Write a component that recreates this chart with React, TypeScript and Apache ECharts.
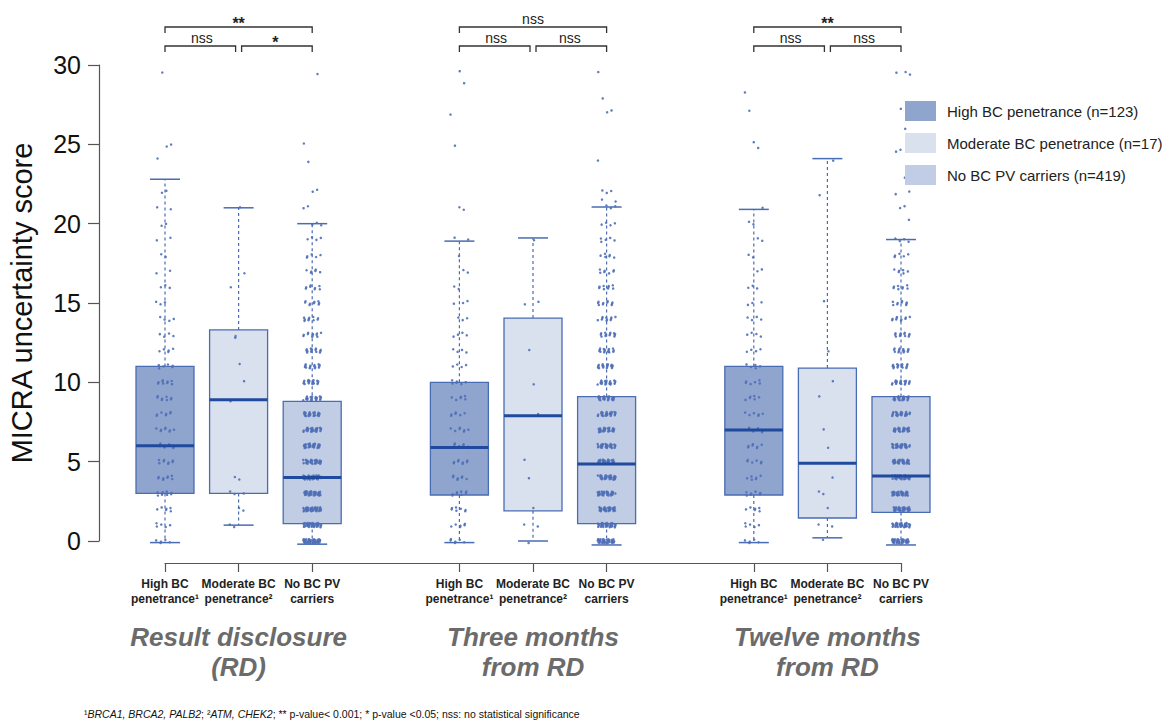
import { useEffect, useRef } from 'react';
import * as echarts from 'echarts';

const FONT = '"Liberation Sans", Arial, Helvetica, sans-serif';

// ---------- data ----------
const categories = [
  'High BC\npenetrance¹', 'Moderate BC\npenetrance²', 'No BC PV\ncarriers', '',
  'High BC\npenetrance¹', 'Moderate BC\npenetrance²', 'No BC PV\ncarriers', '',
  'High BC\npenetrance¹', 'Moderate BC\npenetrance²', 'No BC PV\ncarriers',
];
const boxCategoryIndex = [0, 1, 2, 4, 5, 6, 8, 9, 10];
const boxKind = [0, 1, 2, 0, 1, 2, 0, 1, 2];
const seriesNames = ['High BC penetrance (n=123)', 'Moderate BC penetrance (n=17)', 'No BC PV carriers (n=419)'];
const groupTitles = ['Result disclosure\n(RD)', 'Three months\nfrom RD', 'Twelve months\nfrom RD'];
// [outer (1 vs 3), left (1 vs 2), right (2 vs 3)]
const bracketLabels = [['**', 'nss', '*'], ['nss', 'nss', 'nss'], ['**', 'nss', 'nss']];

const lowerWhisker = [-0.1, 1.0, -0.2, -0.1, 0.0, -0.25, -0.1, 0.2, -0.25];
const q1 = [3.0, 3.0, 1.1, 2.9, 1.9, 1.1, 2.9, 1.45, 1.8];
const medians = [6.0, 8.9, 4.0, 5.9, 7.9, 4.85, 7.0, 4.9, 4.1];
const q3 = [11.0, 13.3, 8.8, 10.0, 14.05, 9.1, 11.0, 10.9, 9.1];
const upperWhisker = [22.8, 21.0, 20.0, 18.9, 19.1, 21.05, 20.9, 24.1, 19.0];

// individual scores as [score, count]
const pointsRdHigh = [[0,5],[1,5],[2,6],[3,9],[4,8],[5,8],[6,9],[7,8],[8,7],[9,8],[10,9],[11,6],[12,5],[13,4],[14,4],[15,3],[16,3],[17,2],[18,2],[19,2],[20,2],[21,2],[22,2],[24,1],[25,2],[29.5,1]];
const pointsRdModerate = [[1,2],[2,2],[3,3],[4,2],[8.9,1],[10,1],[11.2,1],[12.7,1],[16,1],[17,1],[21,1],[13,1]];
const pointsRdNone = [[0,40],[1,38],[2,36],[3,34],[4,33],[5,30],[6,28],[7,26],[8,24],[9,20],[10,18],[11,15],[12,14],[13,11],[14,10],[15,9],[16,8],[17,6],[18,5],[19,4],[20,3],[21,2],[22,2],[24,1],[25,1],[29.5,1]];
const points3mHigh = [[0,6],[1,6],[2,7],[3,8],[4,7],[5,8],[6,8],[7,7],[8,6],[9,6],[10,6],[11,4],[12,4],[13,4],[14,3],[15,3],[16,2],[17,2],[18,1],[19,2],[21,2],[25,1],[26.8,1],[28.9,1],[29.5,1]];
const points3mModerate = [[0,1],[1,2],[2,1],[4,1],[5,1],[8,1],[10,1],[12,1],[15,2],[19,1]];
const points3mNone = [[0,35],[1,33],[2,30],[3,30],[4,30],[5,30],[6,28],[7,26],[8,24],[9,22],[10,20],[11,17],[12,15],[13,13],[14,11],[15,10],[16,9],[17,7],[18,6],[19,5],[20,4],[21,3],[21.5,2],[22,3],[24,1],[27,2],[28,1],[29.5,1]];
const points12mHigh = [[0,5],[1,5],[2,6],[3,7],[4,6],[5,6],[6,7],[7,8],[8,6],[9,6],[10,6],[11,5],[12,4],[13,4],[14,4],[15,3],[16,3],[17,2],[18,2],[19,2],[20,2],[21,1],[24.9,1],[25.1,1],[27.2,1],[28.2,1]];
const points12mModerate = [[0.2,1],[1,2],[2,1],[3,2],[4,1],[6,1],[7,1],[9.2,1],[10,1],[12,1],[15,1],[21.8,1],[24.1,1]];
const points12mNone = [[0,35],[1,33],[2,32],[3,32],[4,32],[5,30],[6,28],[7,26],[8,24],[9,22],[10,19],[11,16],[12,14],[13,12],[14,10],[15,9],[16,8],[17,6],[18,5],[19,4],[20.3,1],[21,2],[22,2],[23,1],[24.6,2],[25.2,1],[26,1],[27.1,1],[29.5,3]];
const pointsByBox = [
  pointsRdHigh, pointsRdModerate, pointsRdNone,
  points3mHigh, points3mModerate, points3mNone,
  points12mHigh, points12mModerate, points12mNone,
];

// ---------- styling ----------
const fills = ['#8FA5CE', '#DAE1EE', '#C1CDE4'];
const boxStroke = '#4A6CB3';
const medianColor = '#1F4A9E';
const pointColor = '#4F6FB7';
const GRID_LEFT = 165;
const GRID_WIDTH = 736;
const catX = (i: number) => GRID_LEFT + (i * GRID_WIDTH) / (categories.length - 1);

// jittered points (deterministic R2 low-discrepancy jitter, presentation only)
const frac = (v: number) => v - Math.floor(v);
const pointData: number[][] = [];
pointsByBox.forEach((list, b) => {
  let j = 0;
  list.forEach(([score, count]) => {
    for (let k = 0; k < count; k++) {
      j++;
      const dx = (frac(0.5 + j * 0.7548776662) - 0.5) * 2 * 9;
      const dy = (frac(0.5 + j * 0.5698402910) - 0.5) * 0.28;
      pointData.push([boxCategoryIndex[b], score + dy, dx]);
    }
  });
});

const boxData = boxCategoryIndex.map((c, i) => [c, lowerWhisker[i], q1[i], medians[i], q3[i], upperWhisker[i], boxKind[i]]);

function buildGraphic() {
  const els: any[] = [];
  for (let g = 0; g < 3; g++) {
    const c0 = catX(g * 4), c1 = catX(g * 4 + 1), c2 = catX(g * 4 + 2);
    const lineStyle = { stroke: '#333', lineWidth: 1.3 };
    els.push({ type: 'polyline', shape: { points: [[c0, 33], [c0, 27], [c2, 27], [c2, 33]] }, style: lineStyle });
    els.push({ type: 'polyline', shape: { points: [[c0, 52], [c0, 46], [c1 - 3, 46], [c1 - 3, 52]] }, style: lineStyle });
    els.push({ type: 'polyline', shape: { points: [[c1 + 3, 52], [c1 + 3, 46], [c2, 46], [c2, 52]] }, style: lineStyle });
    const labs = bracketLabels[g];
    const labPos = [[(c0 + c2) / 2, 27], [(c0 + c1) / 2, 46], [(c1 + c2) / 2, 46]];
    labs.forEach((t, k) => {
      const star = t.indexOf('*') >= 0;
      els.push({
        type: 'text', x: labPos[k][0], y: labPos[k][1] + (star ? -4 : -8),
        style: { text: t, fontSize: star ? 16 : 14, fontWeight: star ? 'bold' : 'normal', fill: '#222', align: 'center', verticalAlign: 'middle', fontFamily: FONT },
      });
    });
    els.push({
      type: 'text', x: c1, y: 622,
      style: { text: groupTitles[g], fontSize: 26, fontWeight: 'bold', fontStyle: 'italic', fill: '#6B6B6B', align: 'center', verticalAlign: 'top', lineHeight: 30, fontFamily: FONT },
    });
  }
  els.push({
    type: 'text', x: 84, y: 714,
    style: {
      text: '¹{i|BRCA1, BRCA2, PALB2}; ²{i|ATM, CHEK2}; ** p-value< 0.001; * p-value <0.05; nss: no statistical significance',
      fontSize: 10.5, fill: '#111', verticalAlign: 'middle', fontFamily: FONT,
      rich: { i: { fontSize: 10.5, fontStyle: 'italic', fill: '#111', fontFamily: FONT } },
    },
  });
  return els;
}

export default function App() {
  const ref = useRef<HTMLDivElement>(null);
  useEffect(() => {
    const chart = echarts.init(ref.current!, null, { renderer: 'svg' });
    const option: any = {
      animation: false,
      backgroundColor: '#fff',
      textStyle: { fontFamily: FONT },
      grid: { left: GRID_LEFT, width: GRID_WIDTH, top: 65, bottom: 181, containLabel: false, outerBoundsMode: 'none' },
      legend: {
        orient: 'vertical', left: 905, top: 101, padding: 0, itemWidth: 31, itemHeight: 20, itemGap: 12,
        icon: 'rect', selectedMode: false, data: seriesNames,
        textStyle: { fontSize: 15, color: '#222', fontFamily: FONT, padding: [0, 0, 0, 6] },
      },
      xAxis: {
        type: 'category', data: categories, boundaryGap: false, offset: 22,
        axisLine: { onZero: false, lineStyle: { color: '#555', width: 1.2 } },
        axisTick: { length: 9, interval: (_i: number, v: string) => v !== '', lineStyle: { color: '#555', width: 1.2 } },
        axisLabel: { interval: 0, fontSize: 12, fontWeight: 'bold', lineHeight: 15, color: '#222', margin: 13, fontFamily: FONT },
        splitLine: { show: false },
      },
      yAxis: {
        type: 'value', min: 0, max: 30, interval: 5, offset: 66,
        axisLine: { show: true, onZero: false, lineStyle: { color: '#555', width: 1.2 } },
        axisTick: { show: true, length: 11, lineStyle: { color: '#555', width: 1.2 } },
        axisLabel: { fontSize: 25, color: '#111', margin: 18, fontFamily: FONT },
        splitLine: { show: false },
        name: 'MICRA uncertainty score', nameLocation: 'middle', nameGap: 63,
        nameTextStyle: { fontSize: 29, color: '#111', fontFamily: FONT },
      },
      series: [
        ...seriesNames.map((n, i) => ({ type: 'bar', name: n, data: [], itemStyle: { color: fills[i] } })),
        {
          type: 'custom', name: 'boxes', z: 2, data: boxData, encode: { x: 0, y: 2 },
          renderItem: (_p: any, api: any) => {
            const c = api.value(0);
            const pLow = api.coord([c, api.value(1)]);
            const pQ1 = api.coord([c, api.value(2)]);
            const pQ3 = api.coord([c, api.value(4)]);
            const pHigh = api.coord([c, api.value(5)]);
            const x = pLow[0];
            const hw = 29, cap = 15;
            const dash = { stroke: boxStroke, lineWidth: 1.2, lineDash: [3, 3] };
            const solid = { stroke: boxStroke, lineWidth: 1.5 };
            return {
              type: 'group',
              children: [
                { type: 'line', shape: { x1: x, y1: pQ1[1], x2: x, y2: pLow[1] }, style: dash },
                { type: 'line', shape: { x1: x, y1: pQ3[1], x2: x, y2: pHigh[1] }, style: dash },
                { type: 'line', shape: { x1: x - cap, y1: pLow[1], x2: x + cap, y2: pLow[1] }, style: solid },
                { type: 'line', shape: { x1: x - cap, y1: pHigh[1], x2: x + cap, y2: pHigh[1] }, style: solid },
                { type: 'rect', shape: { x: x - hw, y: pQ3[1], width: 2 * hw, height: pQ1[1] - pQ3[1] }, style: { fill: fills[api.value(6)], stroke: boxStroke, lineWidth: 1.3 } },
              ],
            };
          },
        },
        {
          type: 'custom', name: 'points', z: 3, data: pointData, encode: { x: 0, y: 1 },
          renderItem: (_p: any, api: any) => {
            const p = api.coord([api.value(0), api.value(1)]);
            return { type: 'circle', shape: { cx: p[0] + api.value(2), cy: p[1], r: 1.25 }, style: { fill: pointColor, opacity: 0.9 } };
          },
        },
        {
          type: 'custom', name: 'medians', z: 4, data: boxData, encode: { x: 0, y: 3 },
          renderItem: (_p: any, api: any) => {
            const p = api.coord([api.value(0), api.value(3)]);
            return { type: 'line', shape: { x1: p[0] - 29, y1: p[1], x2: p[0] + 29, y2: p[1] }, style: { stroke: medianColor, lineWidth: 3 } };
          },
        },
      ],
      graphic: buildGraphic(),
    };
    chart.setOption(option);
    return () => chart.dispose();
  }, []);
  return <div ref={ref} style={{ position: 'fixed', left: 0, top: 0, width: 1169, height: 722, background: '#fff' }} />;
}
